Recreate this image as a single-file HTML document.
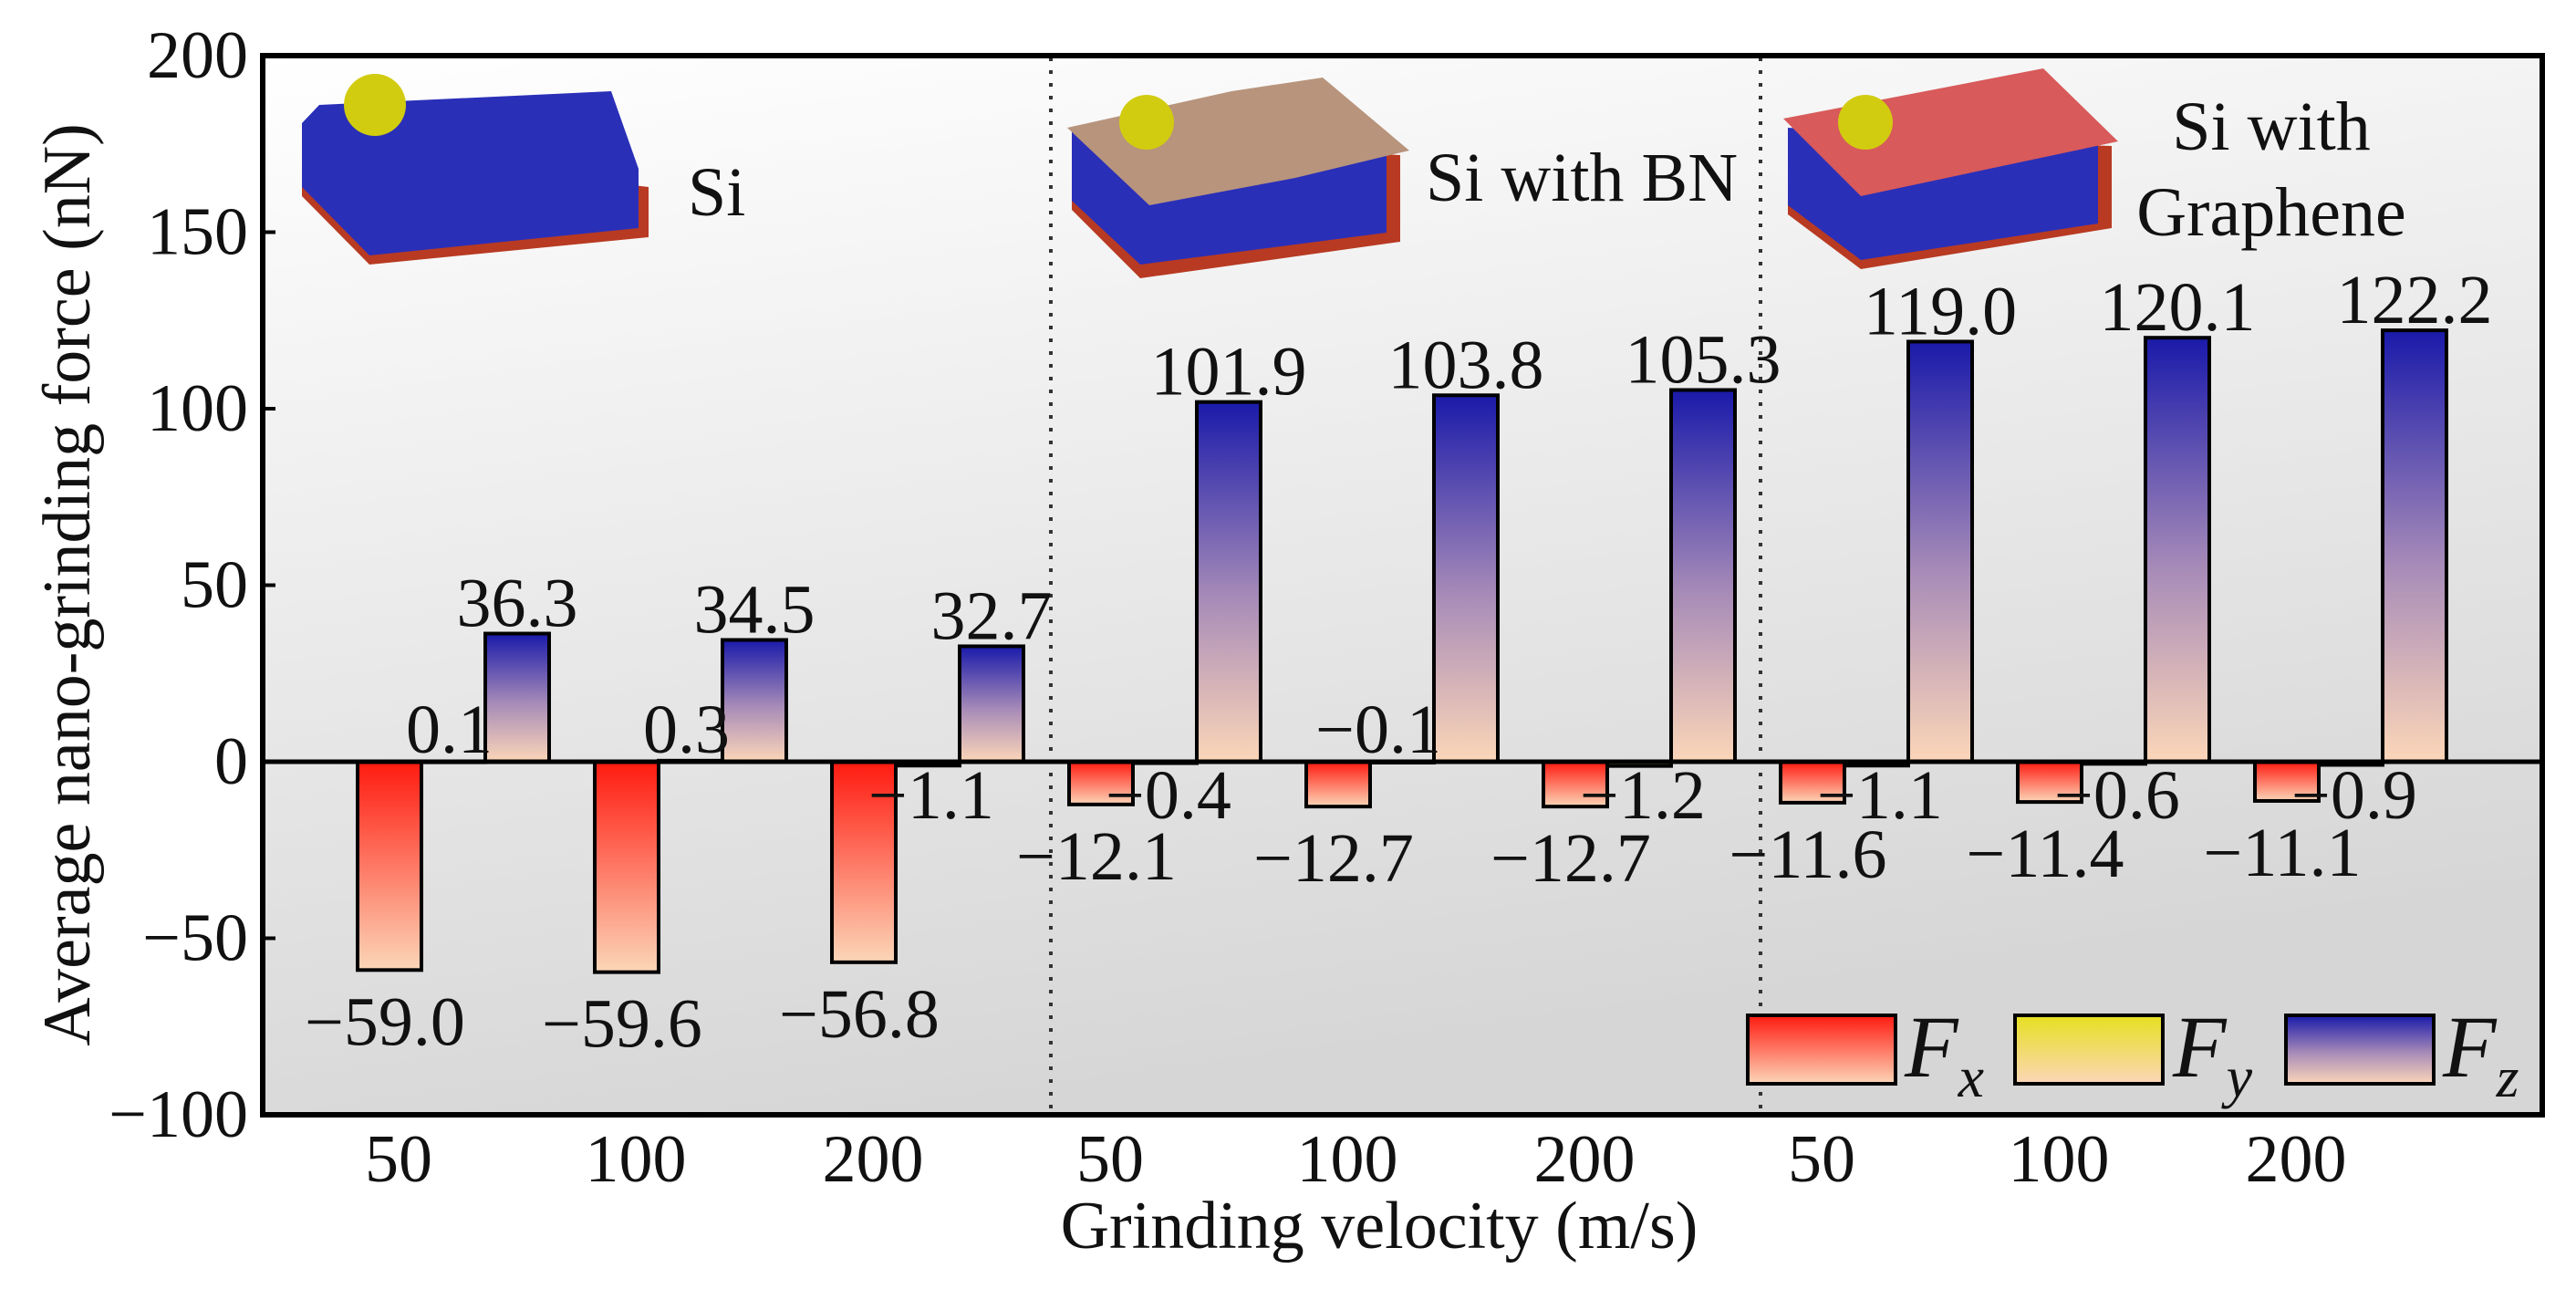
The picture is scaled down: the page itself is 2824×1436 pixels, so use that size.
<!DOCTYPE html>
<html><head><meta charset="utf-8"><style>
html,body{margin:0;padding:0;background:#fff;width:2824px;height:1436px;overflow:hidden}
svg{display:block}
text{font-family:"Liberation Serif",serif;fill:#111}
</style></head><body>
<svg id="chart" width="2824" height="1436" viewBox="0 0 2824 1436" xmlns="http://www.w3.org/2000/svg">
<defs>
<linearGradient id="bg" x1="0" y1="0" x2="0.3" y2="1"><stop offset="0" stop-color="#ffffff"/><stop offset="1" stop-color="#d6d6d6"/></linearGradient>
<linearGradient id="gx" x1="0" y1="0" x2="0" y2="1"><stop offset="0" stop-color="#ff1a10"/><stop offset="1" stop-color="#fcd6b8"/></linearGradient>
<linearGradient id="gy" x1="0" y1="0" x2="0" y2="1"><stop offset="0" stop-color="#e6e020"/><stop offset="1" stop-color="#fcd6b8"/></linearGradient>
<linearGradient id="gz" x1="0" y1="0" x2="0" y2="1"><stop offset="0" stop-color="#1a1aaa"/><stop offset="0.55" stop-color="#a88cb8"/><stop offset="1" stop-color="#fcd6b8"/></linearGradient>
</defs>
<rect x="288" y="61" width="2499" height="1161" fill="url(#bg)"/>
<line x1="1152" y1="63" x2="1152" y2="1220" stroke="#333" stroke-width="4" stroke-dasharray="4,10"/>
<line x1="1930" y1="63" x2="1930" y2="1220" stroke="#333" stroke-width="4" stroke-dasharray="4,10"/>
<g>
<polygon points="331,160 331,215 405,290 711,260 711,205" fill="#b83a22"/>
<polygon points="331,135 331,205 405,280 700,250 700,185 670,100 350,115" fill="#2a2fb8"/>
<circle cx="411" cy="115" r="34" fill="#d2cc10"/>
<text x="754" y="236" font-size="76">Si</text>
</g>
<g>
<polygon points="1175,155 1175,230 1250,305 1535,265 1535,170" fill="#b83a22"/>
<polygon points="1175,140 1175,220 1250,290 1520,255 1520,170" fill="#2a2fb8"/>
<polygon points="1170,140 1350,100 1450,85 1545,165 1420,195 1260,225" fill="#b8947c"/>
<circle cx="1257" cy="134" r="30" fill="#d2cc10"/>
<text x="1563" y="220" font-size="76">Si with BN</text>
</g>
<g>
<polygon points="1960,150 1960,235 2040,295 2315,250 2315,160" fill="#b83a22"/>
<polygon points="1960,140 1960,225 2040,285 2300,245 2300,160" fill="#2a2fb8"/>
<polygon points="1955,130 2240,75 2322,155 2040,215" fill="#d85a5a"/>
<circle cx="2045" cy="134" r="30" fill="#d2cc10"/>
<text x="2490" y="164" font-size="76" text-anchor="middle">Si with</text>
<text x="2490" y="258" font-size="76" text-anchor="middle">Graphene</text>
</g>
<g id="bars"></g>
<g id="labels"></g>
<line x1="288" y1="835" x2="2787" y2="835" stroke="#000" stroke-width="5"/>
<rect x="288" y="61" width="2499" height="1161" fill="none" stroke="#000" stroke-width="6"/>
<g id="axes"></g>
<text x="1512" y="1368" font-size="74" text-anchor="middle">Grinding velocity (m/s)</text>
<text transform="translate(98,641) rotate(-90)" font-size="74" text-anchor="middle">Average nano-grinding force (nN)</text>
<g>
<rect x="1916" y="1113" width="162" height="75" fill="url(#gx)" stroke="#000" stroke-width="4"/>
<text x="2088" y="1180" font-size="96" font-style="italic">F<tspan font-size="64" dy="22">x</tspan></text>
<rect x="2209" y="1113" width="162" height="75" fill="url(#gy)" stroke="#000" stroke-width="4"/>
<text x="2382" y="1180" font-size="96" font-style="italic">F<tspan font-size="64" dy="22">y</tspan></text>
<rect x="2506" y="1113" width="162" height="75" fill="url(#gz)" stroke="#000" stroke-width="4"/>
<text x="2678" y="1180" font-size="96" font-style="italic">F<tspan font-size="64" dy="22">z</tspan></text>
</g>
</svg>
<script>
const categories = ["50","100","200","50","100","200","50","100","200"];
const fxValues = [-59.0,-59.6,-56.8,-12.1,-12.7,-12.7,-11.6,-11.4,-11.1];
const fyValues = [0.1,0.3,-1.1,-0.4,-0.1,-1.2,-1.1,-0.6,-0.9];
const fzValues = [36.3,34.5,32.7,101.9,103.8,105.3,119.0,120.1,122.2];
const yTicks = [-100,-50,0,50,100,150,200];

const NS = "http://www.w3.org/2000/svg";
const yTop = 61, yBot = 1222, yMin = -100, yMax = 200;
function y(v){ return yTop + (yMax - v) / (yMax - yMin) * (yBot - yTop); }
const x0 = 392, groupStep = 260, barW = 70;
function xBar(i, s){ return x0 + i * groupStep + s * barW; }
function mk(tag, attrs, parent, txt){
  const e = document.createElementNS(NS, tag);
  for (const k in attrs) e.setAttribute(k, attrs[k]);
  if (txt !== undefined) e.textContent = txt;
  parent.appendChild(e); return e;
}
const fmt = v => (v < 0 ? "\u2212" : "") + Math.abs(v).toFixed(1);
const bars = document.getElementById("bars"), labels = document.getElementById("labels"), axes = document.getElementById("axes");
const series = [[fxValues,"url(#gx)","fx"],[fyValues,"url(#gy)","fy"],[fzValues,"url(#gz)","fz"]];
series.forEach(([vals, fill, nm], s) => {
  vals.forEach((v, i) => {
    const top = Math.min(y(v), y(0)), h = Math.abs(y(v) - y(0));
    const r = mk("rect", {x: xBar(i, s), y: top, width: barW, height: Math.max(h, 1), fill: fill, stroke: "#000", "stroke-width": 4}, bars);
    
    
    let t;
    if (s === 0) {
      t = mk("text", {x: xBar(i, s) + barW/2 - 5, y: y(v) + 82, "font-size": 76, "text-anchor": "middle"}, labels, fmt(v));
    } else if (s === 2) {
      t = mk("text", {x: xBar(i, s) + barW/2, y: y(v) - 8, "font-size": 76, "text-anchor": "middle"}, labels, fmt(v));
    } else if (v >= 0 || i === 4) {
      t = mk("text", {x: xBar(i, 2) + 8, y: y(0) - 10, "font-size": 76, "text-anchor": "end"}, labels, fmt(v));
    } else {
      t = mk("text", {x: xBar(i, 1) - 30, y: y(0) + 62, "font-size": 76}, labels, fmt(v));
    }
    
    
  });
});
yTicks.forEach(v => {
  const t = mk("text", {x: 272, y: y(v) + 24, "font-size": 74, "text-anchor": "end"}, axes, v < 0 ? "\u2212" + Math.abs(v) : String(v));
  
  
  const l = mk("line", {x1: 288, x2: 302, y1: y(v), y2: y(v), stroke: "#000", "stroke-width": 4}, axes);
  
  
});
categories.forEach((c, i) => {
  const t = mk("text", {x: xBar(i, 0) + 45, y: 1295, "font-size": 74, "text-anchor": "middle"}, axes, c);
  
  
});
</script>
</body></html>
